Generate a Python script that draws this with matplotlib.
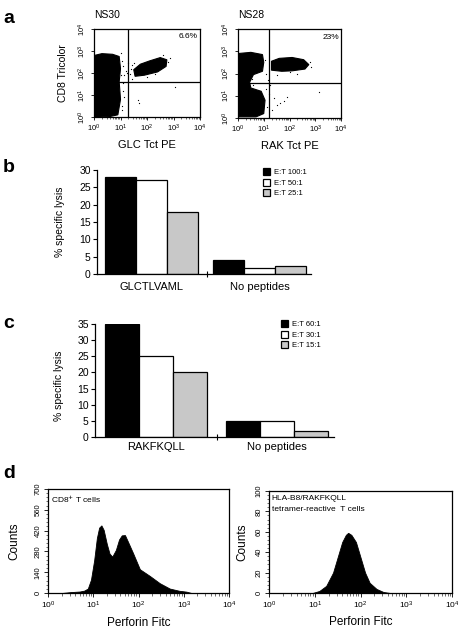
import matplotlib
matplotlib.use('Agg')
import matplotlib.pyplot as plt
import numpy as np
from matplotlib.ticker import LogLocator, MultipleLocator, NullFormatter

plt.rcParams['font.family'] = ['Liberation Sans', 'DejaVu Sans']

W, H = 458, 634  # 画布像素

# ---- a: 流式点图 (坐标为 log10 值) ----
ns30_neg_x = [0.02, 0.02, 0.3, 0.7, 0.95, 1.0, 0.95, 1.0, 0.9, 0.6, 0.2]
ns30_neg_y = [0.0, 2.8, 2.88, 2.85, 2.75, 2.2, 1.6, 0.8, 0.1, 0.02, 0.0]
ns30_pos_x = [1.55, 1.9, 2.4, 2.72, 2.75, 2.5, 2.1, 1.75, 1.5]
ns30_pos_y = [1.85, 1.9, 2.05, 2.3, 2.6, 2.7, 2.55, 2.4, 2.15]
ns30_dots_x = [1.1, 1.2, 1.3, 1.15, 1.4, 1.05, 1.25, 1.67, 1.69, 3.05, 1.08, 1.12, 1.45, 1.35, 1.05, 1.1,
               2.8, 2.85, 2.6, 1.45, 1.5, 2.0, 2.3, 1.03, 1.06, 1.02]
ns30_dots_y = [2.3, 2.1, 2.45, 1.9, 2.2, 2.55, 2.0, 0.77, 0.62, 1.35, 1.2, 0.9, 2.35, 1.95, 0.5, 1.55,
               2.5, 2.7, 2.8, 1.75, 2.45, 1.8, 1.95, 2.9, 0.3, 1.9]
ns30_pct = '6.6%'

ns28_neg_x = [0.03, 0.03, 0.5, 0.95, 1.0, 0.95, 0.6, 0.45, 0.5, 0.9, 1.05, 1.0, 0.7]
ns28_neg_y = [0.05, 2.9, 2.95, 2.85, 2.5, 2.1, 1.95, 1.6, 1.35, 1.2, 0.8, 0.2, 0.05]
ns28_pos_x = [1.3, 1.3, 1.6, 2.1, 2.55, 2.75, 2.6, 2.1, 1.7]
ns28_pos_y = [2.15, 2.55, 2.68, 2.72, 2.62, 2.4, 2.2, 2.12, 2.1]
ns28_dots_x = [1.64, 1.77, 1.51, 1.31, 3.13, 1.15, 1.25, 1.1, 1.4, 1.9, 2.0, 1.2, 0.55, 0.6,
               2.8, 2.85, 1.05, 1.08, 1.12, 0.7, 2.3, 1.5]
ns28_dots_y = [0.66, 0.76, 0.58, 0.36, 1.18, 1.7, 1.5, 2.0, 0.9, 0.95, 2.05, 1.1, 1.75, 1.5,
               2.5, 2.3, 2.6, 1.3, 0.5, 1.05, 2.0, 1.95]
ns28_pct = '23%'

# ---- b/c: 杀伤实验 ----
b_groups = ['GLCTLVAML', 'No peptides']
b_labels = ['E:T 100:1', 'E:T 50:1', 'E:T 25:1']
b_vals = [[28, 4], [27, 1.8], [18, 2.4]]

c_groups = ['RAKFKQLL', 'No peptides']
c_labels = ['E:T 60:1', 'E:T 30:1', 'E:T 15:1']
c_vals = [[35, 5], [25, 5], [20, 2]]

bar_colors = ['black', 'white', '#c8c8c8']

# ---- d: 穿孔素直方图 ----
cd8_dec = [0.3, 0.5, 0.7, 0.8, 0.88, 0.95, 1.02, 1.08, 1.13, 1.18, 1.23, 1.3, 1.36, 1.42, 1.5, 1.57,
           1.63, 1.7, 1.76, 1.88, 2.03, 2.25, 2.47, 2.69, 2.9, 3.06, 3.17]
cd8_cnt = [0, 6, 10, 16, 30, 90, 220, 370, 440, 455, 425, 330, 265, 245, 290, 360,
           388, 390, 350, 268, 160, 115, 66, 30, 15, 9, 0]
tet_dec = [0.95, 1.1, 1.25, 1.4, 1.5, 1.6, 1.68, 1.73, 1.8, 1.9, 2.0, 2.1, 2.2, 2.35, 2.5, 2.65]
tet_cnt = [0, 2, 7, 20, 35, 50, 57, 59, 57, 50, 35, 20, 10, 4, 1, 0]


def px_axes(x0, y0, x1, y1):
	return fig.add_axes([x0 / W, 1 - y1 / H, (x1 - x0) / W, (y1 - y0) / H])


def log_axis(ax, xaxis=True):
	axis = ax.xaxis if xaxis else ax.yaxis
	axis.set_major_locator(LogLocator(base=10, numticks=10))
	axis.set_minor_locator(LogLocator(base=10, subs=np.arange(2, 10), numticks=20))
	axis.set_minor_formatter(NullFormatter())


fig = plt.figure(figsize=(W / 100, H / 100), dpi=100)


def dot_plot(ax, nx, ny, px, py, dx, dy, pct, title, xlabel, vline, hline):
	ax.set_xscale('log')
	ax.set_yscale('log')
	ax.set_xlim(1, 1e4)
	ax.set_ylim(1, 1e4)
	for xs, ys in [(nx, ny), (px, py)]:
		ax.fill(10 ** np.array(xs), 10 ** np.array(ys), color='black', lw=0.8)
	ax.scatter(10 ** np.array(dx), 10 ** np.array(dy), s=0.8, color='black', lw=0)
	ax.axvline(10 ** vline, color='black', lw=0.9)
	ax.axhline(10 ** hline, color='black', lw=0.9)
	log_axis(ax, True)
	log_axis(ax, False)
	ax.tick_params(which='major', labelsize=5.5, length=2.5, width=0.6, pad=1.5)
	ax.tick_params(which='minor', length=1.5, width=0.4)
	ax.tick_params(axis='y', which='minor', length=0)
	ax.tick_params(axis='y', labelrotation=90)
	for lab in ax.get_yticklabels():
		lab.set_va('center')
	ax.text(0.98, 0.91, pct, transform=ax.transAxes, ha='right', va='center', fontsize=6)
	ax.text(0.0, 1.16, title, transform=ax.transAxes, ha='left', va='center', fontsize=7.5)
	ax.set_xlabel(xlabel, fontsize=8)
	ax.xaxis.set_label_coords(0.5, -0.26)
	for s in ax.spines.values():
		s.set_linewidth(0.9)


a1 = px_axes(94, 29, 200, 117)
dot_plot(a1, ns30_neg_x, ns30_neg_y, ns30_pos_x, ns30_pos_y, ns30_dots_x, ns30_dots_y,
         ns30_pct, 'NS30', 'GLC Tct PE', 1.28, 1.6)
a1.set_ylabel('CD8 Tricolor', fontsize=7.5)
a1.yaxis.set_label_coords(-0.25, 0.5)

a2 = px_axes(238, 29, 341, 118)
dot_plot(a2, ns28_neg_x, ns28_neg_y, ns28_pos_x, ns28_pos_y, ns28_dots_x, ns28_dots_y,
         ns28_pct, 'NS28', 'RAK Tct PE', 1.2, 1.57)


def lysis_plot(ax, groups, labels, vals, centers, sep, xmax, ymax, pad, legend_xy):
	handles = []
	for i in range(3):
		pos = [c + (i - 1) for c in centers]
		h = ax.bar(pos, vals[i], width=1.0, color=bar_colors[i], edgecolor='black', lw=0.9)
		handles.append(h)
	ax.set_xlim(0, xmax)
	ax.set_ylim(0, ymax)
	ax.spines['top'].set_visible(False)
	ax.spines['right'].set_visible(False)
	ax.spines['left'].set_linewidth(0.9)
	ax.spines['bottom'].set_linewidth(0.9)
	ax.set_yticks(np.arange(0, ymax + 1, 5))
	ax.tick_params(axis='y', labelsize=7.5, length=3, width=0.8, pad=1.5)
	ax.set_xticks(centers, groups)
	ax.tick_params(axis='x', which='major', length=0, labelsize=8, pad=pad)
	ax.set_xticks([sep], minor=True)
	ax.tick_params(axis='x', which='minor', length=5, width=0.8, direction='inout')
	ax.set_ylabel('% specific lysis', fontsize=7.5)
	ax.legend(handles, labels, loc='upper left',
	          bbox_to_anchor=(legend_xy[0] / W, 1 - legend_xy[1] / H),
	          bbox_transform=fig.transFigure, frameon=False, fontsize=5.5,
	          handlelength=0.9, handleheight=1.0, handletextpad=0.6,
	          labelspacing=0.35, borderpad=0, borderaxespad=0)


b = px_axes(97, 170, 311, 274)
lysis_plot(b, b_groups, b_labels, b_vals, [1.758, 5.24], 3.55, 6.9, 30, 6, (263, 168))
b.yaxis.set_label_coords(-0.15, 0.5)

c = px_axes(95, 324, 334, 437)
lysis_plot(c, c_groups, c_labels, c_vals, [1.794, 5.35], 3.59, 7.03, 35, 3.3, (281, 320))
c.yaxis.set_label_coords(-0.13, 0.45)


def hist_plot(ax, dec, cnt, ymax, ystep, text):
	x = 10 ** np.array(dec)
	ax.fill_between(x, cnt, 0, color='black', lw=0.6, edgecolor='black')
	ax.set_xscale('log')
	ax.set_xlim(1, 1e4)
	ax.set_ylim(0, ymax)
	log_axis(ax, True)
	ax.set_yticks(np.arange(0, ymax + 1, ystep))
	ax.yaxis.set_minor_locator(MultipleLocator(ystep / 5))
	ax.tick_params(which='major', labelsize=6, length=3, width=0.6, pad=1.5)
	ax.tick_params(which='minor', length=1.8, width=0.4)
	ax.tick_params(axis='y', labelrotation=90, labelsize=5.5)
	for lab in ax.get_yticklabels():
		lab.set_va('center')
	ax.set_xlabel('Perforin Fitc', fontsize=8.5)
	ax.xaxis.set_label_coords(0.5, -0.23)
	ax.set_ylabel('Counts', fontsize=8.5)
	ax.text(0.015, 0.96, text, transform=ax.transAxes, ha='left', va='top',
	        fontsize=6, linespacing=1.7)
	for s in ax.spines.values():
		s.set_linewidth(0.9)


d1 = px_axes(48, 489, 229, 593)
hist_plot(d1, cd8_dec, cd8_cnt, 700, 140, 'CD8$^{+}$ T cells')
d1.yaxis.set_label_coords(-0.155, 0.5)

d2 = px_axes(269, 491, 452, 593)
hist_plot(d2, tet_dec, tet_cnt, 100, 20, 'HLA-B8/RAKFKQLL\ntetramer-reactive  T cells')
d2.yaxis.set_label_coords(-0.115, 0.5)

for letter, yb in [('a', 23), ('b', 172), ('c', 328), ('d', 478)]:
	fig.text(3 / W, 1 - yb / H, letter, fontsize=14, fontweight='bold', ha='left', va='baseline')

fig.savefig('out.png', dpi=100)
